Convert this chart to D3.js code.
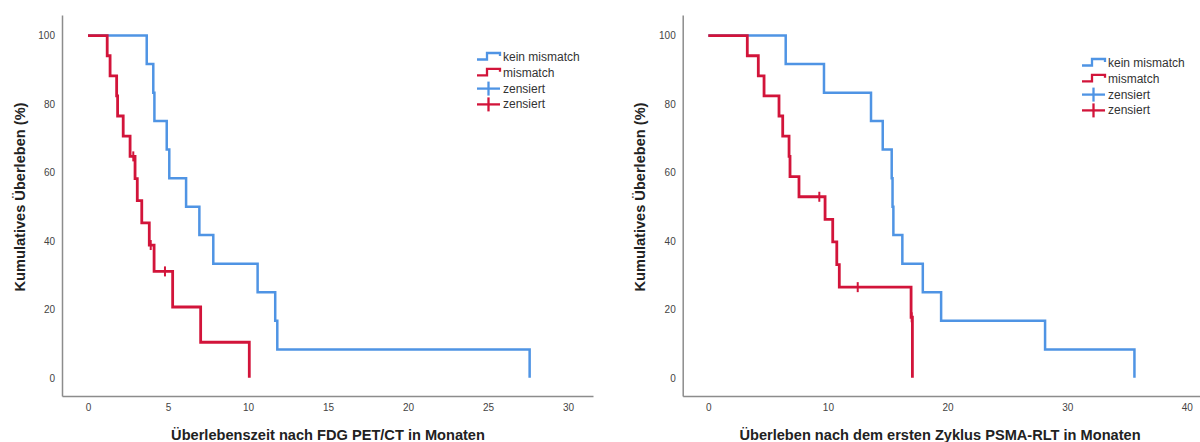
<!DOCTYPE html>
<html>
<head>
<meta charset="utf-8">
<script src="https://cdn.jsdelivr.net/npm/d3@7"></script>
<style>
  body { margin: 0; background: #fff; }
  text { font-family: "Liberation Sans", Arial, sans-serif; }
  .tick text { font-size: 10px; fill: #444; }
  .axis-label { font-size: 14.6px; font-weight: bold; fill: #222; }
  .legend text { font-size: 12px; fill: #333; }
</style>
</head>
<body>
<div id="vis"></div>
<script>
// overall size
const W = 1200, H = 442

// colours (SPSS style)
const blue = '#4f94e4'
const red = '#d2143a'

// ---- left panel: Überlebenszeit nach FDG PET/CT ----
const leftTicks = [0, 5, 10, 15, 20, 25, 30]
// kein mismatch (n = 12)
const leftBlueT = [3.67, 4.08, 4.15, 4.92, 5.08, 6.13, 6.96, 7.83, 10.6, 11.7, 11.83, 27.6]
const leftBlueS = [91.7, 83.3, 75.0, 66.7, 58.3, 50.0, 41.7, 33.3, 25.0, 16.7, 8.3, 0]
// mismatch (n = 17)
const leftRedT = [1.2, 1.38, 1.79, 1.85, 2.2, 2.63, 2.94, 3.08, 3.36, 3.83, 4.13, 5.29, 7.04, 10.08]
const leftRedS = [94.1, 88.2, 82.4, 76.5, 70.6, 64.7, 58.2, 51.8, 45.3, 38.8, 31.1, 20.7, 10.4, 0]
const leftRedCensT = [2.83, 3.92, 4.81]
const leftRedCensS = [64.7, 38.8, 31.1]

// ---- right panel: Überleben nach dem ersten Zyklus PSMA-RLT ----
const rightTicks = [0, 10, 20, 30, 40]
const rightBlueT = [6.47, 9.67, 13.6, 14.58, 15.33, 15.4, 15.47, 16.22, 17.93, 19.46, 28.15, 35.62]
const rightBlueS = [91.7, 83.3, 75.0, 66.7, 58.3, 50.0, 41.7, 33.3, 25.0, 16.7, 8.3, 0]
const rightRedT = [3.26, 4.18, 4.66, 5.91, 6.22, 6.75, 6.83, 7.58, 9.76, 10.4, 10.74, 10.95, 16.95, 17.06]
const rightRedS = [94.1, 88.2, 82.4, 76.5, 70.6, 64.7, 58.8, 52.9, 46.3, 39.7, 33.1, 26.5, 17.7, 0]
const rightRedCensT = [9.28, 12.49, 17.0]
const rightRedCensS = [52.9, 26.5, 17.7]

const yTicks = [0, 20, 40, 60, 80, 100]
const legendLabels = ['kein mismatch', 'mismatch', 'zensiert', 'zensiert']

const svg = d3.select('#vis')
  .append('svg')
  .attr('width', W)
  .attr('height', H)

// y scale shared (axis line runs a bit past 0 and 100)
const yScale = d3.scaleLinear().domain([-5.3, 106]).range([396, 15])

function toPoints(times, surv) {
  return [[0, 100]].concat(times.map((t, i) => [t, surv[i]]))
}

function drawPanel(p) {
  const xScale = d3.scaleLinear().domain(p.xDomain).range(p.xRange)
  const g = svg.append('g')

  // axes, no tick marks
  g.append('g')
    .attr('transform', `translate(0,${yScale.range()[0]})`)
    .call(d3.axisBottom(xScale).tickValues(p.ticks).tickSize(0).tickPadding(8))
  g.append('g')
    .attr('transform', `translate(${p.xRange[0]},0)`)
    .call(d3.axisLeft(yScale).tickValues(yTicks).tickSize(0).tickPadding(7))
  g.selectAll('.domain').attr('stroke', '#8c8c8c').attr('stroke-width', 1.5)

  const line = d3.line()
    .x(d => xScale(d[0]))
    .y(d => yScale(d[1]))
    .curve(d3.curveStepAfter)

  g.append('path')
    .datum(toPoints(p.blueT, p.blueS))
    .attr('fill', 'none')
    .attr('stroke', blue)
    .attr('stroke-width', 2.5)
    .attr('d', line)

  g.append('path')
    .datum(toPoints(p.redT, p.redS))
    .attr('fill', 'none')
    .attr('stroke', red)
    .attr('stroke-width', 2.8)
    .attr('d', line)

  // censor marks
  g.selectAll('.cens')
    .data(p.censT.map((t, i) => [t, p.censS[i]]))
    .join('line')
    .attr('class', 'cens')
    .attr('x1', d => xScale(d[0]))
    .attr('x2', d => xScale(d[0]))
    .attr('y1', d => yScale(d[1]) - 5)
    .attr('y2', d => yScale(d[1]) + 5)
    .attr('stroke', red)
    .attr('stroke-width', 2)

  // axis titles
  g.append('text')
    .attr('class', 'axis-label')
    .attr('x', p.xTitleX)
    .attr('y', 440)
    .attr('text-anchor', 'middle')
    .text(p.xTitle)

  g.append('text')
    .attr('class', 'axis-label')
    .attr('transform', `translate(${p.yTitleX},197) rotate(-90)`)
    .attr('text-anchor', 'middle')
    .text('Kumulatives Überleben (%)')

  // legend
  const lg = g.append('g')
    .attr('class', 'legend')
    .attr('transform', `translate(${p.legX},${p.legY})`)
  const cols = [blue, red, blue, red]
  legendLabels.forEach((lab, i) => {
    const row = lg.append('g').attr('transform', `translate(0,${i * 15.8})`)
    if (i < 2) {
      row.append('path')
        .attr('d', 'M0,2.5 H10 V-4 H23 V-1')
        .attr('fill', 'none')
        .attr('stroke', cols[i])
        .attr('stroke-width', 2.3)
    } else {
      row.append('line').attr('x1', 0).attr('x2', 23).attr('y1', 0).attr('y2', 0)
        .attr('stroke', cols[i]).attr('stroke-width', 2.3)
      row.append('line').attr('x1', 11.5).attr('x2', 11.5).attr('y1', -7).attr('y2', 7)
        .attr('stroke', cols[i]).attr('stroke-width', 2.3)
    }
    row.append('text')
      .attr('x', 26)
      .attr('y', 4)
      .text(lab)
  })
}

drawPanel({
  xDomain: [-1.625, 31.56], xRange: [62, 593], ticks: leftTicks,
  blueT: leftBlueT, blueS: leftBlueS, redT: leftRedT, redS: leftRedS,
  censT: leftRedCensT, censS: leftRedCensS,
  xTitle: 'Überlebenszeit nach FDG PET/CT in Monaten', xTitleX: 328, yTitleX: 25,
  legX: 477, legY: 57
})

drawPanel({
  xDomain: [-2.14, 41.1], xRange: [682.7, 1200], ticks: rightTicks,
  blueT: rightBlueT, blueS: rightBlueS, redT: rightRedT, redS: rightRedS,
  censT: rightRedCensT, censS: rightRedCensS,
  xTitle: 'Überleben nach dem ersten Zyklus PSMA-RLT in Monaten', xTitleX: 940, yTitleX: 645,
  legX: 1082, legY: 63
})
</script>
</body>
</html>
